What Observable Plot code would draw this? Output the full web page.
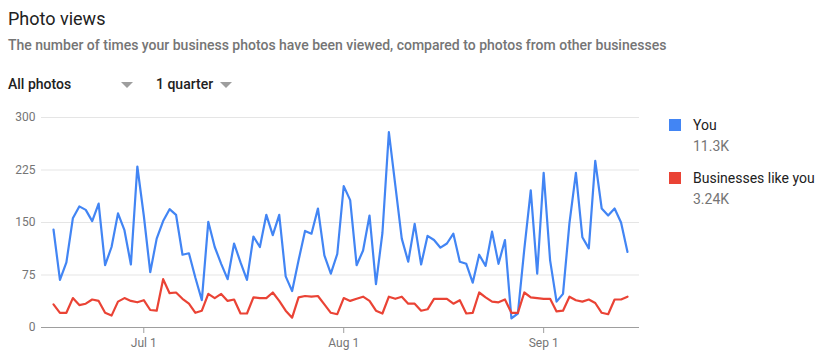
<!DOCTYPE html>
<html>
<head>
<meta charset="utf-8">
<script src="https://cdn.jsdelivr.net/npm/d3@7"></script>
<script src="https://cdn.jsdelivr.net/npm/@observablehq/plot@0.6"></script>
<style>
  html, body { margin: 0; padding: 0; background: #fff; }
  body { width: 822px; height: 364px; position: relative; overflow: hidden; font-family: Roboto, "Noto Sans", sans-serif; }
  .abs { position: absolute; white-space: nowrap; }
  #title { left: 8px; top: 8px; font-size: 18px; color: #212121; }
  #subtitle { left: 8px; top: 37px; font-size: 14px; font-weight: 500; color: #757575; }
  .dd { top: 76px; font-size: 14px; font-weight: 500; color: #212121; }
  .tri { top: 82px; width: 0; height: 0; border-left: 6px solid transparent; border-right: 6px solid transparent; border-top: 6px solid #9e9e9e; }
  #chart { position: absolute; left: 0; top: 100px; }
  .sw { position: absolute; width: 12px; height: 12px; left: 669px; }
  .lg { left: 693px; font-size: 14px; color: #212121; }
  .lv { left: 693px; font-size: 14px; color: #757575; }
</style>
</head>
<body>
<div id="title" class="abs">Photo views</div>
<div id="subtitle" class="abs">The number of times your business photos have been viewed, compared to photos from other businesses</div>
<div class="abs dd" style="left:8px">All photos</div>
<div class="abs tri" style="left:121px"></div>
<div class="abs dd" style="left:156px">1 quarter</div>
<div class="abs tri" style="left:220px"></div>
<div id="chart"></div>
<div id="legend"></div>
<script>
// ---- data ----
const startDate = "2019-06-17";
const endDate = "2019-09-15"; // exclusive
const seriesNames = ["You", "Businesses like you"];
const seriesTotals = ["11.3K", "3.24K"];
const seriesColors = ["#4285f4", "#ea4335"];
const youViews = [
  140, 68, 93, 156, 173, 168, 152, 177, 89, 115,
  163, 139, 90, 230, 160, 79, 127, 152, 169, 161,
  104, 106, 71, 39, 151, 115, 91, 69, 120, 93,
  68, 130, 115, 161, 132, 161, 73, 52, 96, 138,
  134, 170, 103, 77, 105, 202, 182, 89, 110, 160,
  62, 135, 279, 203, 127, 94, 148, 90, 131, 125,
  114, 120, 134, 94, 91, 64, 104, 88, 137, 91,
  125, 13, 20, 112, 196, 77, 221, 96, 37, 48,
  149, 221, 129, 113, 238, 170, 160, 170, 150, 108
];
const othersViews = [
  33, 21, 21, 42, 32, 34, 40, 38, 21, 17,
  37, 42, 38, 36, 39, 25, 24, 69, 49, 50,
  41, 34, 21, 24, 48, 42, 48, 38, 40, 20,
  20, 43, 42, 42, 50, 38, 24, 14, 43, 45,
  44, 45, 33, 21, 19, 42, 38, 41, 44, 38,
  24, 20, 44, 41, 44, 34, 34, 24, 26, 41,
  41, 41, 34, 39, 20, 21, 50, 43, 37, 36,
  40, 21, 21, 50, 43, 42, 41, 41, 23, 24,
  44, 39, 37, 40, 35, 21, 19, 40, 40, 44
];
const yTicks = [0, 75, 150, 225, 300];
const xTickLabels = ["2019-07-01", "2019-08-01", "2019-09-01"];

// ---- build ----
const dates = d3.utcDays(new Date(startDate), new Date(endDate));
const rows = [];
[youViews, othersViews].forEach((vals, s) => {
  vals.forEach((v, i) => rows.push({date: dates[i], value: v, series: seriesNames[s]}));
});

const chart = Plot.plot({
  width: 650,
  height: 260,
  marginLeft: 41,
  marginRight: 11,
  marginTop: 17,
  marginBottom: 33,
  style: {fontFamily: "Roboto, sans-serif", fontSize: "12px", color: "#757575", background: "transparent"},
  x: {type: "utc", insetLeft: 12, insetRight: 12},
  y: {domain: [0, 300]},
  color: {domain: seriesNames, range: seriesColors},
  marks: [
    Plot.gridY(yTicks.filter(d => d > 0), {stroke: "#e5e5e5", strokeOpacity: 1}),
    Plot.axisY({ticks: yTicks, tickSize: 0, tickPadding: 6, label: null, fill: "#757575"}),
    Plot.axisX({ticks: xTickLabels.map(d => new Date(d)), tickFormat: d3.utcFormat("%b %-d"),
                tickSize: 6, tickPadding: 5, label: null, stroke: "#9e9e9e", fill: "#757575"}),
    Plot.ruleY([0], {stroke: "#9e9e9e"}),
    Plot.lineY(rows, {x: "date", y: "value", z: "series", stroke: "series", strokeWidth: 2.2, curve: "linear"})
  ]
});
document.getElementById("chart").appendChild(chart);

// legend
const legend = document.getElementById("legend");
seriesNames.forEach((name, i) => {
  const top = 119 + i * 53;
  legend.insertAdjacentHTML("beforeend",
    `<div class="sw" style="top:${top}px;background:${seriesColors[i]}"></div>` +
    `<div class="abs lg" style="top:${top - 2}px">${name}</div>` +
    `<div class="abs lv" style="top:${top + 19}px">${seriesTotals[i]}</div>`);
});
</script>
</body>
</html>
